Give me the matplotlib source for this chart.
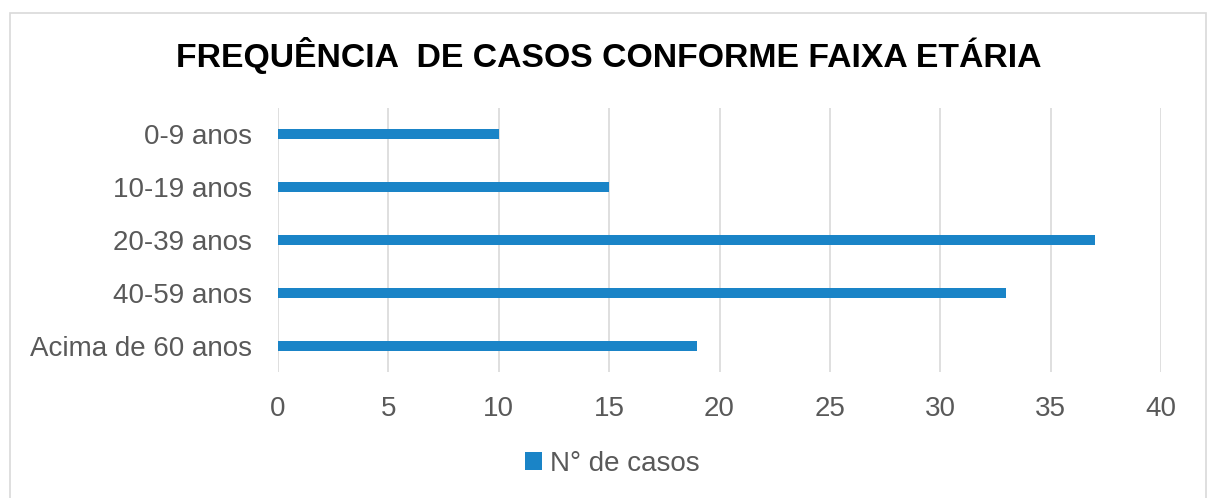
import matplotlib
matplotlib.use("Agg")
import matplotlib.pyplot as plt
from matplotlib.patches import Rectangle

categories = ["0-9 anos", "10-19 anos", "20-39 anos", "40-59 anos", "Acima de 60 anos"]
values = [10, 15, 37, 33, 19]
xticks = [0, 5, 10, 15, 20, 25, 30, 35, 40]
series_name = "N° de casos"
title = "FREQUÊNCIA  DE CASOS CONFORME FAIXA ETÁRIA"

plt.rcParams['font.family'] = ['Liberation Sans', 'DejaVu Sans']

W, H = 1213, 498
fig = plt.figure(figsize=(W / 100, H / 100), dpi=100)
fig.patch.set_facecolor("white")

# outer chart border
fig.add_artist(Rectangle((10 / W, -0.01), (1206 - 10) / W, 1 - 13 / H + 0.01,
                         transform=fig.transFigure, fill=False,
                         edgecolor="#d9d9d9", linewidth=1.2))

ax = fig.add_axes([278 / W, 1 - 372 / H, (1161 - 278) / W, (372 - 108) / H])
bar_color = "#1a84c7"
ypos = list(range(len(categories)))
ax.barh(ypos, values, height=0.19, color=bar_color, label=series_name, zorder=3)
ax.set_xlim(0, 40)
ax.set_ylim(len(categories) - 0.5, -0.5)
ax.set_yticks(ypos)
ax.set_yticklabels(categories)
ax.set_xticks(xticks)
ax.set_xticklabels([str(t) for t in xticks])
ax.tick_params(axis='both', length=0, labelsize=20, labelcolor="#595959")
ax.tick_params(axis='y', pad=19)
ax.tick_params(axis='x', pad=17)
ax.grid(axis='x', color="#d9d9d9", linewidth=1.2, zorder=0)
for s in ax.spines.values():
    s.set_visible(False)

fig.text(0.5 + 0.002, 1 - 55 / H, title, ha='center', va='center',
         fontsize=24.3, fontweight='bold', color="#000000")

leg = fig.legend(loc='center', bbox_to_anchor=(0.505, 1 - 464 / H), frameon=False,
                 fontsize=20, handlelength=0.6, handleheight=0.6, handletextpad=0.3)
for t in leg.get_texts():
    t.set_color("#595959")

fig.savefig("out.png", dpi=100, facecolor="white")
